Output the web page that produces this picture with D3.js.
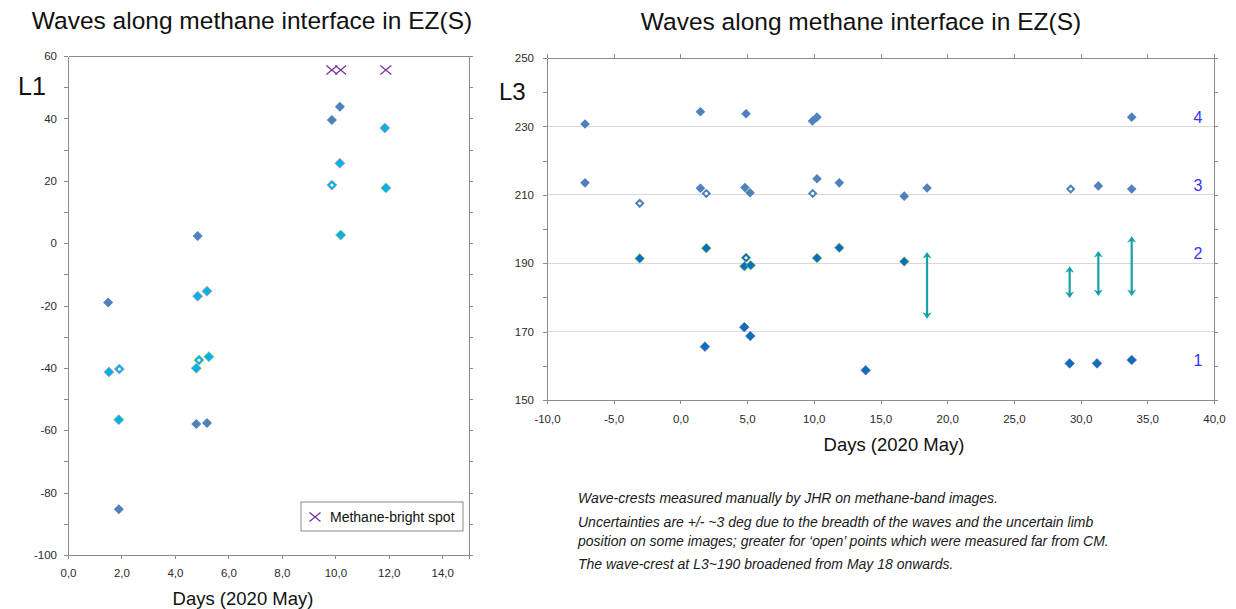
<!DOCTYPE html>
<html>
<head>
<meta charset="utf-8">
<script src="https://cdn.jsdelivr.net/npm/d3@7"></script>
<style>
  body { margin: 0; background: #fff; }
  svg { display: block; font-family: "Liberation Sans", Arial, sans-serif; }
  .axis path, .axis line { stroke: #8a8a8a; shape-rendering: crispEdges; }
  .axis text { fill: #2a2a2a; font-size: 11.5px; font-family: "Liberation Sans", Arial, sans-serif; }
</style>
</head>
<body>
<div id="chart"></div>
<script>
// ---- data: left chart (L1 vs day) ----
const l1Blue = [[1.5, -19], [1.9, -85.3], [4.85, 2.3], [4.8, -58], [5.2, -57.7], [9.87, 39.5], [10.17, 43.7]];
const l1CyanRed = [[4.85, -17], [5.2, -15.4], [1.53, -41.3], [10.17, 25.6], [11.85, 36.9]];
const l1CyanRedOpen = [[1.92, -40.4], [9.87, 18.6]];
const l1CyanGreen = [[1.9, -56.6], [4.8, -40.1], [5.27, -36.4], [10.2, 2.6], [11.89, 17.7]];
const l1CyanGreenOpen = [[4.9, -37.5]];
const l1Spots = [[9.87, 55.5], [10.2, 55.5], [11.89, 55.5]];

// ---- data: right chart (L3 vs day) ----
const l3Band4 = [[-7.15, 230.7], [1.5, 234.3], [4.92, 233.7], [9.9, 231.6], [10.24, 232.7], [33.83, 232.7]];
const l3Band3 = [[-7.15, 213.5], [1.5, 211.9], [4.84, 212.1], [5.22, 210.6], [10.24, 214.7], [11.91, 213.5],
                 [16.78, 209.6], [18.49, 212], [31.33, 212.6], [33.83, 211.7]];
const l3Band3Open = [[-3.05, 207.5], [1.94, 210.4], [9.92, 210.4], [29.26, 211.7]];
const l3Band2 = [[-3.05, 191.4], [1.94, 194.4], [4.8, 189.1], [5.27, 189.4], [10.24, 191.5], [11.91, 194.5], [16.78, 190.5]];
const l3Band2Open = [[4.92, 191.6]];
const l3Band1 = [[1.84, 165.6], [4.79, 171.3], [5.24, 168.7], [13.89, 158.7], [29.18, 160.7], [31.23, 160.7], [33.83, 161.7]];
const l3Ranges = [[18.49, 174.6, 192.4], [29.18, 180.7, 188.2], [31.33, 181.3, 192.7], [33.83, 181.3, 197]];
const bandLabels = [['4', 232.8], ['3', 212.7], ['2', 193], ['1', 161.7]];

const titleText = 'Waves along methane interface in EZ(S)';
const xTitle = 'Days (2020 May)';
const notes = [
  'Wave-crests measured manually by JHR on methane-band images.',
  'Uncertainties are +/- ~3 deg due to the breadth of the waves and the uncertain limb',
  'position on some images; greater for \u2018open\u2019 points which were measured far from CM.',
  'The wave-crest at L3~190 broadened from May 18 onwards.'
];

const W = 1236, H = 609;
const svg = d3.select('#chart').append('svg').attr('width', W).attr('height', H);
svg.append('rect').attr('width', W).attr('height', H).attr('fill', '#fff');

const fmt = d => d.toFixed(1).replace('.', ',');
const diamond = r => `M0,${-r}L${r},0L0,${r}L${-r},0Z`;

function drawPoints(g, x, y, data, fill, stroke, r, open) {
  const pts = g.append('g').selectAll('g').data(data).enter().append('g')
    .attr('transform', d => `translate(${x(d[0])},${y(d[1])})`);
  pts.append('path').attr('d', diamond(r)).attr('fill', fill)
    .attr('stroke', stroke || 'none').attr('stroke-width', 0.8);
  if (open) pts.append('circle').attr('r', 1.6).attr('fill', '#fff');
}

// =================== LEFT CHART ===================
const x1 = d3.scaleLinear().domain([0, 15]).range([68, 469]);
const y1 = d3.scaleLinear().domain([-100, 60]).range([555, 56]);
const left = svg.append('g');

left.append('g').attr('class', 'axis').attr('transform', `translate(${x1(0)},0)`)
  .call(d3.axisLeft(y1).tickValues(d3.range(-100, 61, 10)).tickSize(4).tickPadding(7).tickSizeOuter(0)
    .tickFormat(d => d % 20 === 0 ? d : ''));
left.append('g').attr('class', 'axis').attr('transform', `translate(${x1(15)},0)`)
  .call(d3.axisRight(y1).tickValues(d3.range(-100, 61, 10)).tickSize(4).tickSizeOuter(0).tickFormat(''));
left.append('g').attr('class', 'axis').attr('transform', `translate(0,${y1(-100)})`)
  .call(d3.axisBottom(x1).tickValues(d3.range(0, 16, 2).concat([15])).tickSize(4).tickPadding(10).tickSizeOuter(0)
    .tickFormat(d => d === 15 ? '' : fmt(d)));
left.append('g').attr('class', 'axis').attr('transform', `translate(0,${y1(60)})`)
  .call(d3.axisTop(x1).tickValues([]).tickSizeOuter(0));

drawPoints(left, x1, y1, l1Blue, '#4f81bd', null, 5);
drawPoints(left, x1, y1, l1CyanRed, '#00b0f0', '#d99694', 5);
drawPoints(left, x1, y1, l1CyanRedOpen, '#00b0f0', '#d99694', 5, true);
drawPoints(left, x1, y1, l1CyanGreen, '#00b0f0', '#9bbb59', 5);
drawPoints(left, x1, y1, l1CyanGreenOpen, '#00b0f0', '#9bbb59', 5, true);

const cross = 'M-5.5,-4.5L5.5,4.5M-5.5,4.5L5.5,-4.5';
left.append('g').selectAll('path').data(l1Spots).enter().append('path')
  .attr('transform', d => `translate(${x1(d[0])},${y1(d[1])})`)
  .attr('d', cross).attr('stroke', '#7030a0').attr('stroke-width', 1.2).attr('fill', 'none');

// legend
const lg = left.append('g').attr('transform', 'translate(301,502)');
lg.append('rect').attr('width', 162).attr('height', 29).attr('fill', '#fff').attr('stroke', '#8a8a8a');
lg.append('path').attr('transform', 'translate(14,15)').attr('d', cross)
  .attr('stroke', '#7030a0').attr('stroke-width', 1.2).attr('fill', 'none');
lg.append('text').attr('x', 29).attr('y', 20).attr('font-size', 14).attr('fill', '#111').text('Methane-bright spot');

left.append('text').attr('x', 252).attr('y', 29).attr('text-anchor', 'middle')
  .attr('font-size', 24.5).attr('fill', '#111').text(titleText);
left.append('text').attr('x', 18).attr('y', 95).attr('font-size', 25).attr('fill', '#111').text('L1');
left.append('text').attr('x', 243).attr('y', 605).attr('text-anchor', 'middle')
  .attr('font-size', 18.5).attr('fill', '#111').text(xTitle);

// =================== RIGHT CHART ===================
const x3 = d3.scaleLinear().domain([-10, 40]).range([547, 1214]);
const y3 = d3.scaleLinear().domain([150, 250]).range([400, 58]);
const right = svg.append('g');

right.append('g').selectAll('line').data([170, 190, 210, 230]).enter().append('line')
  .attr('x1', x3(-10)).attr('x2', x3(40)).attr('y1', d => y3(d)).attr('y2', d => y3(d))
  .attr('stroke', '#d9d9d9').attr('shape-rendering', 'crispEdges');

right.append('g').attr('class', 'axis').attr('transform', `translate(${x3(-10)},0)`)
  .call(d3.axisLeft(y3).tickValues(d3.range(150, 251, 10)).tickSize(4).tickPadding(9).tickSizeOuter(0)
    .tickFormat(d => (d - 150) % 20 === 0 ? d : ''));
right.append('g').attr('class', 'axis').attr('transform', `translate(${x3(40)},0)`)
  .call(d3.axisRight(y3).tickValues(d3.range(150, 251, 10)).tickSize(4).tickSizeOuter(0).tickFormat(''));
right.append('g').attr('class', 'axis').attr('transform', `translate(0,${y3(150)})`)
  .call(d3.axisBottom(x3).tickValues(d3.range(-10, 41, 5)).tickSize(4).tickPadding(11).tickSizeOuter(0)
    .tickFormat(fmt));
right.append('g').attr('class', 'axis').attr('transform', `translate(0,${y3(250)})`)
  .call(d3.axisTop(x3).tickValues(d3.range(-10, 41, 5)).tickSize(4).tickSizeOuter(0).tickFormat(''));

// range bars (broadened crest)
const defs = svg.append('defs');
defs.append('marker').attr('id', 'arr').attr('viewBox', '-6 -6 12 12')
  .attr('markerWidth', 12).attr('markerHeight', 12).attr('markerUnits', 'userSpaceOnUse')
  .attr('orient', 'auto-start-reverse')
  .append('path').attr('d', 'M-3.5,-4.5L3,0L-3.5,4.5L-1.5,0Z').attr('fill', '#17a0a8');
right.append('g').selectAll('line').data(l3Ranges).enter().append('line')
  .attr('x1', d => x3(d[0])).attr('x2', d => x3(d[0]))
  .attr('y1', d => y3(d[1])).attr('y2', d => y3(d[2]))
  .attr('stroke', '#17a0a8').attr('stroke-width', 2.2)
  .attr('marker-start', 'url(#arr)').attr('marker-end', 'url(#arr)');

drawPoints(right, x3, y3, l3Band4, '#4f81bd', null, 4.8);
drawPoints(right, x3, y3, l3Band3, '#4f81bd', null, 4.8);
drawPoints(right, x3, y3, l3Band3Open, '#4f81bd', null, 4.8, true);
drawPoints(right, x3, y3, l3Band2, '#0070c0', '#9bbb59', 4.8);
drawPoints(right, x3, y3, l3Band2Open, '#0070c0', '#9bbb59', 4.8, true);
drawPoints(right, x3, y3, l3Band1, '#0070c0', '#8064a2', 4.8);

right.append('g').selectAll('text').data(bandLabels).enter().append('text')
  .attr('x', x3(38.8)).attr('y', d => y3(d[1])).attr('dy', '0.36em').attr('text-anchor', 'middle')
  .attr('font-size', 16).attr('fill', '#3333ff').text(d => d[0]);

right.append('text').attr('x', 861).attr('y', 30).attr('text-anchor', 'middle')
  .attr('font-size', 24.5).attr('fill', '#111').text(titleText);
right.append('text').attr('x', 499).attr('y', 100).attr('font-size', 24).attr('fill', '#111').text('L3');
right.append('text').attr('x', 894).attr('y', 451).attr('text-anchor', 'middle')
  .attr('font-size', 18.5).attr('fill', '#111').text(xTitle);

// notes
svg.append('g').selectAll('text').data(notes).enter().append('text')
  .attr('x', 578).attr('y', (d, i) => [503, 527, 546, 569][i])
  .attr('font-size', 14).attr('font-style', 'italic').attr('fill', '#1a1a1a').text(d => d);
</script>
</body>
</html>
